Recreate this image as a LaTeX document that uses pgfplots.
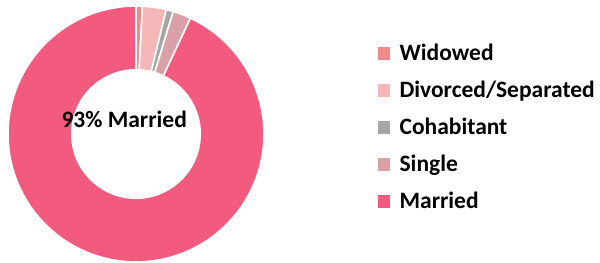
\documentclass[border=0pt]{standalone}
\usepackage{pgfplots}
\pgfplotsset{compat=1.18}
\usepackage{fontspec}
\setmainfont{Carlito}
\definecolor{cWid}{HTML}{EE8A8A}
\definecolor{cDiv}{HTML}{F4B6B6}
\definecolor{cCoh}{HTML}{A6A6A6}
\definecolor{cSin}{HTML}{D9A0A8}
\definecolor{cMar}{HTML}{F35B7E}
% shares in percent, clockwise from 12 o'clock
\def\vWid{0.8}
\def\vDiv{3.0}
\def\vCoh{0.9}
\def\vSin{2.3}
\def\vMar{93.0}
\pgfmathsetmacro{\aA}{90}
\pgfmathsetmacro{\aB}{\aA-3.6*\vWid}
\pgfmathsetmacro{\aC}{\aB-3.6*\vDiv}
\pgfmathsetmacro{\aD}{\aC-3.6*\vCoh}
\pgfmathsetmacro{\aE}{\aD-3.6*\vSin}
\pgfmathsetmacro{\aF}{\aE-3.6*\vMar}
\begin{document}
\begin{tikzpicture}
\begin{axis}[
  x=128bp, y=128bp,
  xmin=-1.0625, xmax=3.625, ymin=-1, ymax=1.046875,
  hide axis, clip=false,
  legend image code/.code={\fill[#1] (0bp,-7.2bp) rectangle (14bp,7.2bp);},
  legend style={at={(axis cs:1.875,0.691)}, anchor=north west,
    draw=none, fill=none, inner sep=0pt, outer sep=0pt,
    row sep=20.9bp, column sep=8bp,
    font=\fontsize{23.5bp}{28bp}\selectfont\bfseries,
    nodes={inner sep=0pt, text height=14.4bp, text depth=0pt},
    cells={anchor=west}},
  legend cell align=left,
]
\addplot[draw=none, forget plot] coordinates {(-1.0625,-1) (3.625,1.046875)};
\addplot[fill=cWid, draw=white, line width=1.6bp, domain=\aB:\aA, samples=6] ({cos(x)},{sin(x)}) -- (axis cs:0,0) -- cycle;
\addlegendentry{Widowed}
\addplot[fill=cDiv, draw=white, line width=1.6bp, domain=\aC:\aB, samples=12] ({cos(x)},{sin(x)}) -- (axis cs:0,0) -- cycle;
\addlegendentry{Divorced/Separated}
\addplot[fill=cCoh, draw=white, line width=1.6bp, domain=\aD:\aC, samples=6] ({cos(x)},{sin(x)}) -- (axis cs:0,0) -- cycle;
\addlegendentry{Cohabitant}
\addplot[fill=cSin, draw=white, line width=1.6bp, domain=\aE:\aD, samples=10] ({cos(x)},{sin(x)}) -- (axis cs:0,0) -- cycle;
\addlegendentry{Single}
\addplot[fill=cMar, draw=white, line width=1.6bp, domain=\aF:\aE, samples=160] ({cos(x)},{sin(x)}) -- (axis cs:0,0) -- cycle;
\addlegendentry{Married}
\addplot[fill=white, draw=none, domain=0:360, samples=160, forget plot] ({0.508*cos(x)},{0.508*sin(x)}) -- cycle;
\node[font=\fontsize{23.5bp}{28bp}\selectfont\bfseries, anchor=base, inner sep=0pt] at (axis cs:-0.092,0.049) {93\% Married};
\end{axis}
\end{tikzpicture}
\end{document}
